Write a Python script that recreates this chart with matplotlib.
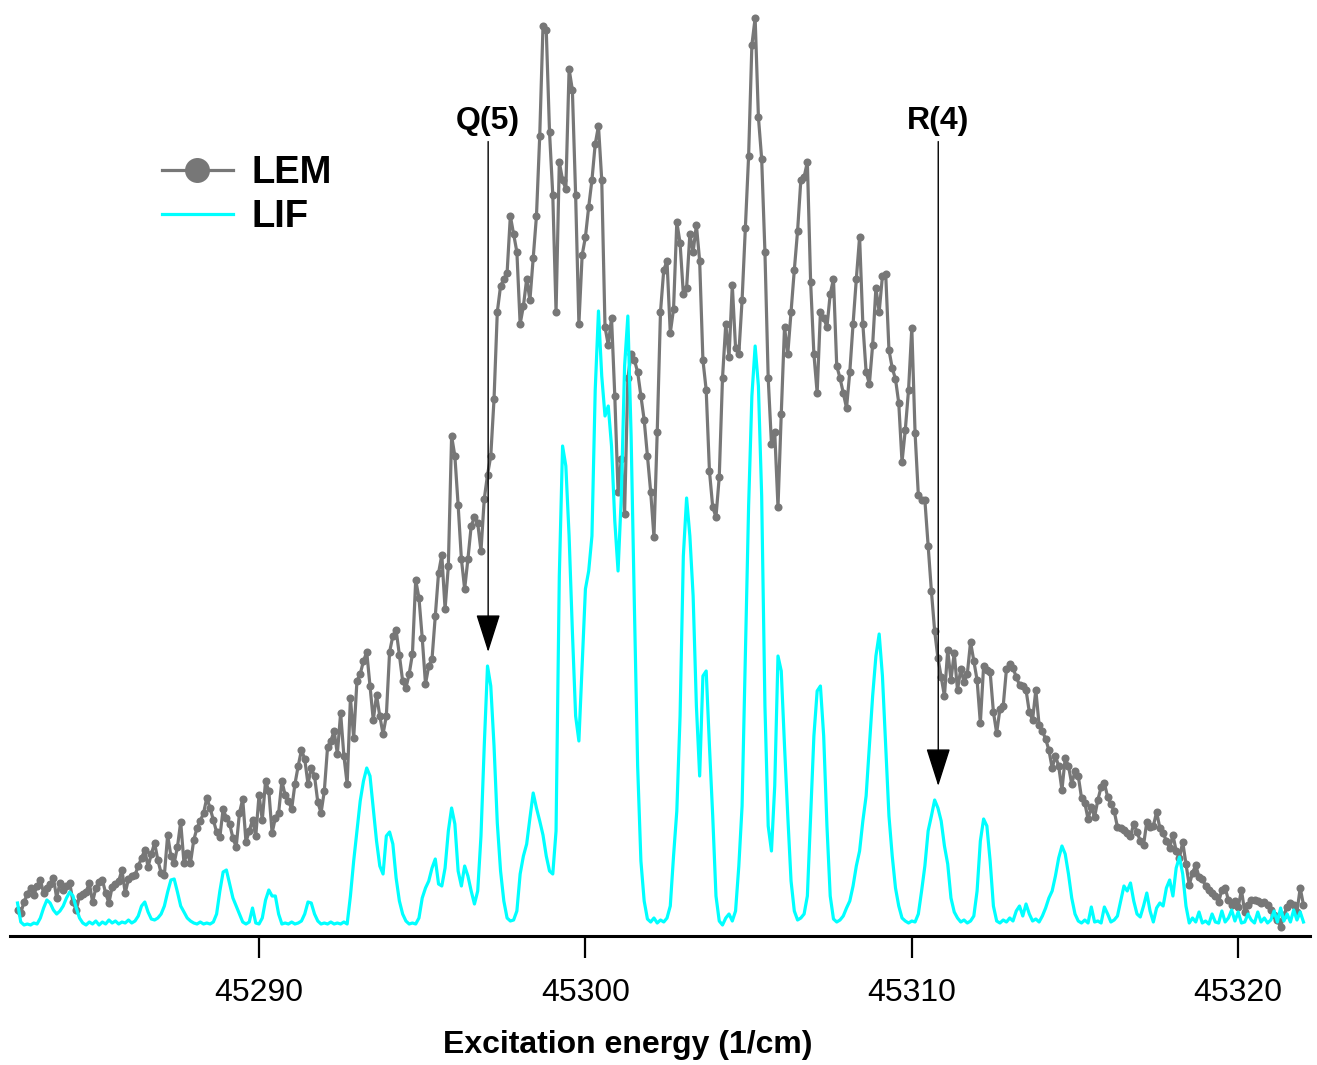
import matplotlib
matplotlib.use("Agg")
import matplotlib.pyplot as plt
import numpy as np

plt.rcParams['font.family'] = ['Liberation Sans', 'DejaVu Sans']

# sampling of both spectra (1/cm)
x_start = 45282.6
x_step = 0.1

# LEM signal (arb. units)
lem = [26, 23, 34, 42, 48, 41, 50, 56, 43, 48, 52, 58, 38, 53, 46, 50, 53, 34, 26, 40,
       42, 44, 53, 34, 48, 54, 56, 43, 33, 49, 52, 55, 66, 43, 57, 60, 61, 70, 78, 86,
       69, 82, 93, 76, 63, 61, 101, 80, 73, 89, 114, 73, 83, 73, 96, 108, 115, 123, 138, 128,
       116, 104, 99, 127, 118, 112, 98, 89, 123, 137, 94, 105, 116, 100, 141, 116, 155, 145, 103, 118,
       123, 155, 141, 135, 127, 152, 170, 186, 177, 152, 168, 160, 134, 123, 145, 189, 195, 205, 182, 223,
       180, 152, 238, 198, 255, 262, 275, 284, 250, 216, 241, 220, 202, 220, 284, 300, 306, 281, 255, 248,
       262, 282, 356, 338, 298, 252, 270, 277, 320, 363, 381, 327, 370, 500, 480, 431, 377, 347, 377, 410,
       419, 413, 385, 437, 461, 480, 537, 624, 650, 657, 663, 720, 702, 684, 612, 630, 657, 636, 678, 720,
       800, 910, 906, 804, 741, 624, 774, 756, 747, 867, 846, 741, 612, 681, 699, 729, 756, 792, 810, 756,
       609, 591, 618, 540, 444, 477, 422, 558, 582, 576, 564, 540, 516, 480, 444, 399, 504, 624, 666, 675,
       603, 627, 714, 693, 642, 648, 702, 684, 711, 675, 576, 546, 465, 429, 419, 459, 558, 612, 579, 651,
       588, 582, 636, 708, 780, 891, 918, 819, 777, 684, 558, 492, 504, 429, 522, 609, 582, 624, 666, 705,
       756, 759, 774, 654, 582, 543, 624, 618, 609, 642, 657, 570, 558, 543, 528, 564, 612, 657, 699, 612,
       564, 552, 591, 648, 624, 660, 662, 586, 568, 557, 533, 474, 506, 546, 608, 503, 441, 436, 436, 390,
       345, 305, 278, 259, 240, 286, 256, 283, 246, 267, 254, 262, 294, 275, 256, 213, 270, 266, 264, 224,
       203, 227, 230, 267, 272, 268, 259, 251, 250, 246, 224, 216, 246, 211, 205, 197, 186, 168, 180, 170,
       146, 178, 170, 152, 165, 160, 138, 133, 117, 129, 119, 136, 149, 153, 139, 132, 125, 109, 108, 106,
       103, 100, 112, 104, 95, 91, 114, 109, 110, 124, 108, 103, 95, 88, 101, 85, 78, 94, 72, 51,
       63, 71, 59, 57, 50, 46, 43, 40, 34, 46, 48, 36, 31, 35, 29, 46, 24, 31, 36, 36,
       35, 33, 34, 31, 26, 21, 16, 9, 21, 29, 33, 31, 24, 48, 31]

# LIF signal (arb. units)
lif = [33, 14, 11, 12, 11, 13, 12, 18, 28, 36, 33, 26, 22, 25, 30, 38, 44, 40, 28, 18,
       13, 11, 14, 12, 15, 11, 14, 12, 16, 13, 15, 12, 14, 13, 16, 13, 15, 20, 30, 34,
       24, 17, 16, 18, 22, 30, 44, 56, 57, 44, 30, 24, 18, 15, 13, 12, 14, 12, 13, 12,
       14, 22, 45, 64, 66, 52, 38, 30, 22, 14, 12, 14, 28, 13, 12, 18, 36, 46, 40, 40,
       22, 12, 13, 12, 14, 12, 13, 15, 22, 34, 33, 22, 15, 12, 13, 12, 14, 12, 13, 12,
       14, 12, 40, 75, 105, 135, 155, 168, 160, 127, 95, 70, 62, 100, 104, 92, 58, 35, 22, 15,
       12, 13, 12, 18, 38, 48, 55, 68, 77, 52, 50, 68, 105, 128, 112, 65, 50, 70, 60, 45,
       32, 45, 100, 190, 270, 250, 190, 113, 65, 35, 18, 15, 16, 25, 62, 80, 92, 118, 143, 128,
       115, 101, 80, 65, 62, 105, 360, 490, 470, 400, 305, 220, 195, 270, 347, 365, 400, 546, 625, 560,
       520, 530, 490, 415, 365, 440, 570, 620, 500, 330, 170, 75, 35, 17, 14, 18, 13, 16, 14, 18,
       30, 80, 125, 220, 380, 438, 400, 340, 230, 160, 260, 265, 190, 120, 40, 15, 11, 18, 22, 15,
       25, 70, 130, 280, 430, 540, 590, 550, 440, 230, 110, 85, 150, 280, 265, 190, 120, 55, 25, 16,
       18, 22, 40, 120, 200, 245, 250, 200, 110, 40, 17, 14, 16, 20, 28, 35, 50, 70, 85, 115,
       140, 190, 240, 280, 302, 260, 190, 120, 80, 48, 30, 18, 15, 13, 15, 14, 22, 45, 70, 105,
       120, 136, 128, 115, 90, 72, 38, 24, 18, 14, 16, 13, 15, 20, 45, 95, 117, 110, 75, 30,
       15, 13, 16, 14, 18, 15, 25, 30, 20, 32, 22, 15, 17, 14, 20, 28, 38, 45, 60, 78,
       90, 82, 62, 38, 22, 15, 13, 16, 13, 29, 14, 15, 13, 29, 22, 14, 16, 20, 35, 50,
       45, 53, 35, 22, 19, 30, 43, 25, 14, 28, 33, 30, 48, 56, 40, 68, 79, 62, 30, 13,
       18, 14, 24, 13, 15, 12, 22, 14, 13, 25, 14, 18, 26, 15, 24, 13, 14, 22, 16, 13,
       24, 14, 18, 13, 16, 25, 14, 28, 15, 22, 14, 26, 16, 24, 14]

peak_labels = ['Q(5)', 'R(4)']
peak_pos = [45297.02, 45310.81]
peak_tip = [284, 150]
label_height = 800

xticks = [45290, 45300, 45310, 45320]

W, H = 1317, 1065
fig = plt.figure(figsize=(W / 100, H / 100), dpi=100)
ax = fig.add_axes([10 / W, (H - 936) / H, 1300 / W, 926 / H])

x_lem = x_start + x_step * np.arange(len(lem))
x_lif = x_start + x_step * np.arange(len(lif))

ax.plot(x_lem, lem, color='#777777', lw=2.3, marker='o', ms=5.8,
        markeredgewidth=0, label='LEM', zorder=2)
ax.plot(x_lif, lif, color='#00FFFF', lw=2.3, label='LIF', zorder=3)

for lab, xp, tip in zip(peak_labels, peak_pos, peak_tip):
    ax.annotate(lab, xy=(xp, tip), xytext=(xp, label_height),
                ha='center', va='bottom', fontsize=23, fontweight='bold',
                arrowprops=dict(arrowstyle='-|>,head_length=1.1,head_width=0.35',
                                color='black', lw=1, shrinkA=2, shrinkB=0,
                                mutation_scale=22))

ax.set_xlim(45282.37, 45322.2)
ax.set_ylim(0, 926)
ax.set_xticks(xticks)
ax.set_xticklabels([str(t) for t in xticks])
ax.tick_params(axis='x', direction='out', length=16, width=1.6, labelsize=23, pad=14)
ax.set_yticks([])
for s in ['left', 'right', 'top']:
    ax.spines[s].set_visible(False)
ax.spines['bottom'].set_linewidth(2.2)

ax.set_xlabel('Excitation energy (1/cm)', fontsize=23, fontweight='bold')
ax.xaxis.set_label_coords((628 - 10) / 1300, -0.102)

ax.legend(loc='upper left', bbox_to_anchor=(162 / W, 1 - 155 / H),
          bbox_transform=fig.transFigure, frameon=False,
          prop={'weight': 'bold', 'size': 27.5},
          handlelength=1.85, handletextpad=0.5, markerscale=3.1,
          borderpad=0, borderaxespad=0, labelspacing=0.22)

fig.savefig('out.png', dpi=100)
